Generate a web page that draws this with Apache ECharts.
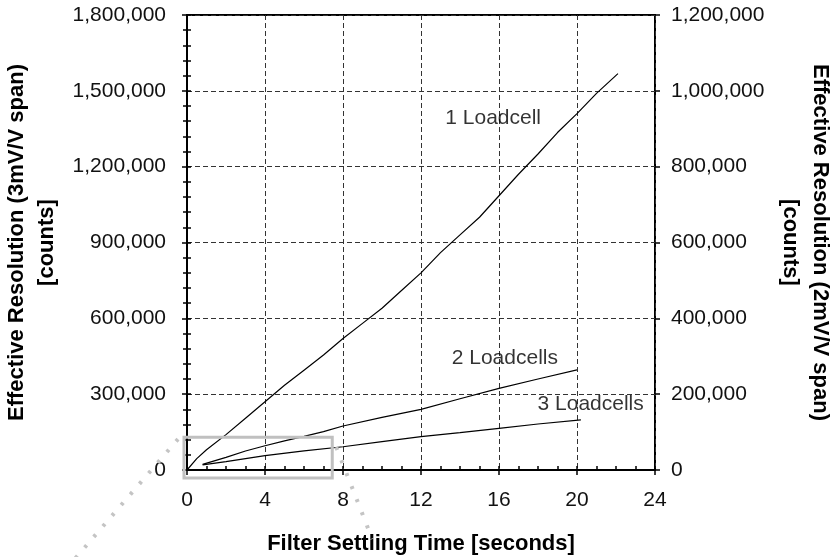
<!DOCTYPE html>
<html><head><meta charset="utf-8">
<script src="https://cdn.jsdelivr.net/npm/echarts@6/dist/echarts.min.js"></script>
<style>html,body{margin:0;padding:0;background:#fff}#c{width:834px;height:557px}</style>
</head><body><div id="c"></div>
<script>
// ---- data ----
const xRange = [0, 24];
const xInterval = 4;
const leftRange = [0, 1800000];
const leftInterval = 300000;
const rightRange = [0, 1200000];
const rightInterval = 200000;

const seriesNames = ['1 Loadcell', '2 Loadcells', '3 Loadcells'];
const oneLoadcell = [[0,0],[0.5,45000],[1,80000],[2,140000],[3,205000],[4,270000],[5,335000],[6,395000],[7,455000],[8,520000],[9,580000],[10,640000],[11,710000],[12,780000],[13,860000],[14,930000],[15,1000000],[16,1085000],[17,1170000],[18,1250000],[19,1335000],[20,1410000],[21,1490000],[22.1,1568000]];
const twoLoadcells = [[0.8,22000],[2,50000],[3,75000],[4,96000],[5,115000],[6,133000],[7,152000],[8,174000],[10,208000],[12,240000],[14,282000],[16,323000],[18,360000],[20,396000]];
const threeLoadcells = [[0.8,20000],[2,33000],[4,57000],[6,76000],[8,92000],[10,112000],[12,132000],[14,148000],[16,165000],[18,182000],[20.2,198000]];
const labelAnchors = [[15.7,1392000],[16.3,443000],[20.7,261000]];
const zoomBoxX = [0, 7.5];
const zoomBoxY = [0, 130000];

const xTitle = 'Filter Settling Time [seconds]';
const leftTitle = 'Effective Resolution (3mV/V span)\n[counts]';
const rightTitle = 'Effective Resolution (2mV/V span)\n[counts]';

// ---- chart ----
const FONT = 'Liberation Sans, Arial, sans-serif';
const fmt = v => Number(v).toLocaleString('en-US');
const chart = echarts.init(document.getElementById('c'), null, {renderer: 'canvas'});

const axisLineStyle = {color: '#000', width: 2};
const labelStyle = {color: '#111', fontSize: 21, fontFamily: FONT};
const tickLine = {color: '#000', width: 1.5};
const gridDash = {show: true, lineStyle: {color: '#333', type: [5, 3], width: 1}};
const titleStyle = {fontFamily: FONT, fontSize: 22, fontWeight: 'bold', color: '#000', lineHeight: 30, align: 'center'};

function tickAxis(extra) {
  return Object.assign({
    type: 'value', axisLine: {show: false}, axisLabel: {show: false}, splitLine: {show: false},
    axisTick: {show: true, inside: false, length: 5, lineStyle: tickLine}, minorTick: {show: false}, silent: true
  }, extra);
}

chart.setOption({
  animation: false,
  backgroundColor: '#fff',
  grid: {left: 187, right: 179, top: 15, bottom: 87, show: true, borderColor: '#000', borderWidth: 2, containLabel: false, outerBoundsMode: 'none'},
  xAxis: [{
    type: 'value', position: 'bottom', min: xRange[0], max: xRange[1], interval: xInterval,
    axisLine: {show: true, lineStyle: axisLineStyle},
    axisTick: {show: true, inside: true, length: 4, lineStyle: tickLine},
    minorTick: {show: true, splitNumber: 4, length: 4, lineStyle: tickLine},
    splitLine: gridDash,
    axisLabel: Object.assign({margin: 20}, labelStyle),
    name: xTitle, nameLocation: 'middle', nameGap: 62,
    nameTextStyle: Object.assign({}, titleStyle, {lineHeight: 24})
  }, tickAxis({position: 'bottom', min: xRange[0], max: xRange[1], interval: xInterval})],
  yAxis: [{
    type: 'value', position: 'left', min: leftRange[0], max: leftRange[1], interval: leftInterval,
    axisLine: {show: true, lineStyle: axisLineStyle},
    axisTick: {show: true, inside: true, length: 4, lineStyle: tickLine},
    minorTick: {show: true, splitNumber: 5, length: 4, lineStyle: tickLine},
    splitLine: gridDash,
    axisLabel: Object.assign({margin: 21, formatter: fmt}, labelStyle),
    name: leftTitle, nameLocation: 'middle', nameRotate: 90, nameGap: 125,
    nameTextStyle: titleStyle
  }, {
    type: 'value', position: 'right', min: rightRange[0], max: rightRange[1], interval: rightInterval,
    axisLine: {show: true, lineStyle: axisLineStyle},
    axisTick: {show: true, inside: true, length: 4, lineStyle: tickLine},
    minorTick: {show: true, splitNumber: 5, length: 4, lineStyle: tickLine},
    splitLine: {show: false},
    axisLabel: Object.assign({margin: 16, formatter: fmt}, labelStyle),
    name: rightTitle, nameLocation: 'middle', nameRotate: -90, nameGap: 118,
    nameTextStyle: titleStyle
  },
  tickAxis({position: 'left', min: leftRange[0], max: leftRange[1], interval: leftInterval}),
  tickAxis({position: 'right', min: rightRange[0], max: rightRange[1], interval: rightInterval})
  ],
  series: [
    {name: seriesNames[0], type: 'line', data: oneLoadcell, showSymbol: false, smooth: false, lineStyle: {color: '#000', width: 1.2}},
    {name: seriesNames[1], type: 'line', data: twoLoadcells, showSymbol: false, smooth: false, lineStyle: {color: '#000', width: 1.2}},
    {name: seriesNames[2], type: 'line', data: threeLoadcells, showSymbol: false, smooth: false, lineStyle: {color: '#000', width: 1.2}},
    {type: 'scatter', symbolSize: 0, silent: true,
     data: labelAnchors.map((p, i) => ({value: p, name: seriesNames[i]})),
     label: {show: true, position: 'inside', formatter: p => p.name, color: '#000', fontFamily: FONT, fontSize: 21}}
  ]
});

// callout box + dotted leader lines derived from data region
const p0 = chart.convertToPixel({xAxisIndex: 0, yAxisIndex: 0}, [zoomBoxX[0], zoomBoxY[0]]);
const p1 = chart.convertToPixel({xAxisIndex: 0, yAxisIndex: 0}, [zoomBoxX[1], zoomBoxY[1]]);
const bx = p0[0] - 3, by = p1[1], bw = p1[0] - p0[0] + 2, bh = p0[1] - p1[1] + 8;
const dotStyle = {stroke: '#c4c4c4', lineWidth: 4, lineDash: [3, 11], lineCap: 'butt'};
chart.setOption({
  graphic: [
    {type: 'rect', shape: {x: bx, y: by, width: bw, height: bh}, style: {fill: 'none', stroke: '#c0c0c0', lineWidth: 3}, z: 10},
    {type: 'line', shape: {x1: bx - 6, y1: by + 2, x2: bx - 118, y2: by + 132}, style: dotStyle, z: 10},
    {type: 'line', shape: {x1: bx + bw + 4, y1: by + 10, x2: bx + bw + 40, y2: by + 102}, style: dotStyle, z: 10}
  ]
});
</script></body></html>
